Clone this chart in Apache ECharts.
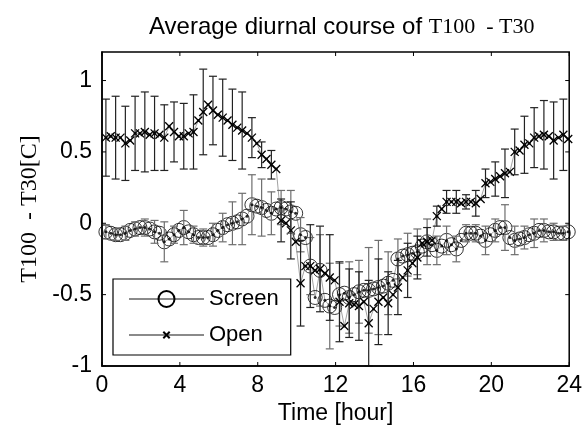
<!DOCTYPE html>
<html>
<head>
<meta charset="utf-8">
<script src="https://cdn.jsdelivr.net/npm/echarts@6/dist/echarts.min.js"></script>
<style>
html,body{margin:0;padding:0;background:#fff;}
#diurnal{width:585px;height:434px;}
</style>
</head>
<body>
<div id="diurnal"></div>
<script>
// time of day (hour), one point per 15 min
var hours = [0.2,0.45,0.7,0.95,1.2,1.45,1.7,1.95,2.2,2.45,2.7,2.95,3.2,3.45,3.7,3.95,
  4.2,4.45,4.7,4.95,5.2,5.45,5.7,5.95,6.2,6.45,6.7,6.95,7.2,7.45,7.7,7.95,
  8.2,8.45,8.7,8.95,9.2,9.45,9.7,9.95,10.2,10.45,10.7,10.95,11.2,11.45,11.7,11.95,
  12.2,12.45,12.7,12.95,13.2,13.45,13.7,13.95,14.2,14.45,14.7,14.95,15.2,15.45,15.7,15.95,
  16.2,16.45,16.7,16.95,17.2,17.45,17.7,17.95,18.2,18.45,18.7,18.95,19.2,19.45,19.7,19.95,
  20.2,20.45,20.7,20.95,21.2,21.45,21.7,21.95,22.2,22.45,22.7,22.95,23.2,23.45,23.7,23.95];

var screenMean = [-0.06,-0.07,-0.08,-0.08,-0.07,-0.05,-0.04,-0.03,-0.03,-0.04,-0.06,-0.07,-0.13,-0.11,-0.08,-0.05,
  -0.03,-0.06,-0.08,-0.10,-0.10,-0.10,-0.08,-0.05,-0.03,-0.01,0.00,0.01,0.03,0.05,0.13,0.12,
  0.11,0.09,0.07,0.10,0.11,0.10,0.08,0.07,-0.08,-0.10,-0.30,-0.52,-0.33,-0.54,-0.58,-0.59,
  -0.50,-0.49,-0.52,-0.50,-0.48,-0.47,-0.47,-0.46,-0.45,-0.44,-0.42,-0.40,-0.25,-0.23,-0.22,-0.21,
  -0.20,-0.16,-0.13,-0.15,-0.19,-0.16,-0.12,-0.15,-0.18,-0.12,-0.07,-0.07,-0.07,-0.09,-0.12,-0.08,
  -0.05,-0.03,-0.03,-0.10,-0.12,-0.11,-0.10,-0.08,-0.07,-0.05,-0.05,-0.06,-0.06,-0.07,-0.07,-0.06];

var openMean = [0.60,0.61,0.60,0.60,0.56,0.58,0.63,0.63,0.64,0.62,0.63,0.62,0.60,0.68,0.64,0.61,
  0.61,0.63,0.64,0.72,0.78,0.83,0.79,0.76,0.74,0.72,0.69,0.67,0.65,0.63,0.60,0.56,
  0.48,0.45,0.41,0.38,0.02,0.00,-0.05,-0.13,-0.42,-0.30,-0.30,-0.33,-0.32,-0.35,-0.38,-0.40,
  -0.55,-0.72,-0.56,-0.57,-0.58,-0.55,-0.70,-0.60,-0.55,-0.52,-0.56,-0.50,-0.45,-0.38,-0.33,-0.28,
  -0.24,-0.14,-0.13,-0.12,0.05,0.10,0.15,0.15,0.15,0.14,0.15,0.15,0.14,0.17,0.28,0.29,
  0.31,0.33,0.35,0.36,0.50,0.51,0.55,0.56,0.60,0.61,0.62,0.61,0.58,0.60,0.62,0.59];

// half-widths of the error bars, one per 30 min (every second point)
var screenErr = [0.05,0.04,0.05,0.05,0.06,0.08,0.14,0.06,0.12,0.06,0.06,0.08,0.10,0.15,0.18,0.21,
  0.20,0.15,0.12,0.15,0.12,0.20,0.25,0.30,0.22,0.25,0.22,0.30,0.33,0.22,0.14,0.15,
  0.16,0.16,0.10,0.10,0.09,0.06,0.06,0.10,0.08,0.16,0.10,0.08,0.10,0.08,0.06,0.05];

var openErr = [0.27,0.29,0.26,0.26,0.28,0.26,0.23,0.21,0.23,0.26,0.30,0.24,0.27,0.25,0.27,0.14,
  0.09,0.10,0.15,0.20,0.30,0.29,0.30,0.30,0.28,0.24,0.24,0.30,0.30,0.22,0.19,0.19,
  0.15,0.10,0.07,0.08,0.08,0.05,0.09,0.10,0.12,0.17,0.16,0.20,0.21,0.24,0.27,0.25];

// axis ticks
var xTicks = [0, 4, 8, 12, 16, 20, 24];
var yTicks = [-1, -0.5, 0, 0.5, 1];
var xRange = [0, 24];
var yRange = [-1, 1.2];

var crossPath = 'path://M0,0M20,20M6,6L14,14M14,6L6,14';

function pairs(mean){
    return hours.map(function(h,i){ return [h, mean[i]]; });
}
function bars(mean, err){
    var out = [];
    for (var k = 0; k < err.length; k++) {
        out.push([hours[2*k], mean[2*k], err[k]]);
    }
    return out;
}
function renderBar(color){
    return function(params, api){
        var x = api.value(0), y = api.value(1), e = api.value(2);
        var hi = api.coord([x, y + e]);
        var lo = api.coord([x, y - e]);
        var w = 4;
        var st = {stroke: color, lineWidth: 1.2};
        return {
            type: 'group',
            children: [
                {type:'line', shape:{x1:hi[0],y1:hi[1],x2:lo[0],y2:lo[1]}, style:st},
                {type:'line', shape:{x1:hi[0]-w,y1:hi[1],x2:hi[0]+w,y2:hi[1]}, style:st},
                {type:'line', shape:{x1:lo[0]-w,y1:lo[1],x2:lo[0]+w,y2:lo[1]}, style:st}
            ]
        };
    };
}
// box round the plot with inward ticks on all four sides, placed through api.coord
function renderFrame(params, api){
    var tl = api.coord([xRange[0], yRange[1]]);
    var br = api.coord([xRange[1], yRange[0]]);
    var st = {stroke: '#000', lineWidth: 1};
    var t = 4;
    var kids = [{
        type: 'polygon',
        shape: {points: [[tl[0], tl[1]], [br[0], tl[1]], [br[0], br[1]], [tl[0], br[1]]]},
        style: {fill: 'none', stroke: '#000', lineWidth: 1.5}
    }];
    xTicks.forEach(function(v){
        var p = api.coord([v, yRange[0]])[0];
        kids.push({type:'line', shape:{x1:p, y1:br[1], x2:p, y2:br[1]-t}, style:st});
        kids.push({type:'line', shape:{x1:p, y1:tl[1], x2:p, y2:tl[1]+t}, style:st});
    });
    yTicks.forEach(function(v){
        var p = api.coord([xRange[0], v])[1];
        kids.push({type:'line', shape:{x1:tl[0], y1:p, x2:tl[0]+t, y2:p}, style:st});
        kids.push({type:'line', shape:{x1:br[0], y1:p, x2:br[0]-t, y2:p}, style:st});
    });
    return {type: 'group', children: kids};
}

var myChart = echarts.init(document.getElementById('diurnal'));
var axisFont = {fontFamily: 'Liberation Sans', fontSize: 23, color: '#000'};

myChart.setOption({
    animation: false,
    title: {
        text: '{a|Average diurnal course of }{b|T100  - T30}',
        left: 144,
        top: 10,
        textStyle: {
            fontWeight: 'normal',
            rich: {
                a: {fontFamily: 'Liberation Sans', fontSize: 24, fontWeight: 'normal', color: '#000'},
                b: {fontFamily: 'Liberation Serif', fontSize: 22, fontWeight: 'normal', color: '#000'}
            }
        }
    },
    grid: {left: 102, right: 13, top: 52, bottom: 68},
    legend: {
        orient: 'vertical',
        left: 113,
        top: 279,
        backgroundColor: '#fff',
        borderColor: '#000',
        borderWidth: 1.2,
        borderRadius: 0,
        padding: [9, 12, 9, 15],
        itemWidth: 75,
        itemHeight: 20,
        itemGap: 14,
        textStyle: {fontFamily: 'Liberation Sans', fontSize: 22, color: '#000', lineHeight: 20},
        data: ['Screen', 'Open']
    },
    xAxis: {
        type: 'value', min: xRange[0], max: xRange[1], interval: 4,
        name: 'Time [hour]', nameLocation: 'middle', nameGap: 34,
        nameTextStyle: axisFont,
        axisLine: {show: true, onZero: false, lineStyle: {color: '#000', width: 1.5}},
        axisTick: {show: false},
        axisLabel: Object.assign({margin: 8}, axisFont),
        splitLine: {show: false}
    },
    yAxis: {
        type: 'value', min: yRange[0], max: yRange[1], interval: 0.5,
        name: 'T100  - T30[C]', nameLocation: 'middle', nameGap: 58,
        nameTextStyle: {fontFamily: 'Liberation Serif', fontSize: 24, color: '#000'},
        axisLine: {show: true, onZero: false, lineStyle: {color: '#000', width: 1.5}},
        axisTick: {show: false},
        axisLabel: Object.assign({margin: 10, showMaxLabel: false}, axisFont),
        splitLine: {show: false}
    },
    series: [
        {
            name: 'Screen', type: 'line',
            data: pairs(screenMean),
            symbol: 'circle', symbolSize: 14,
            lineStyle: {color: '#8a8a8a', width: 0.8},
            itemStyle: {color: 'rgba(0,0,0,0)', borderColor: '#000', borderWidth: 0.8},
            z: 3
        },
        {
            name: 'Open', type: 'line',
            data: pairs(openMean),
            symbol: crossPath, symbolSize: 20,
            lineStyle: {color: '#8a8a8a', width: 0.8},
            itemStyle: {color: 'rgba(0,0,0,0)', borderColor: '#000', borderWidth: 1.3},
            z: 3
        },
        {
            type: 'custom', name: 'screenErr',
            data: bars(screenMean, screenErr),
            renderItem: renderBar('#6e6e6e'),
            encode: {x: 0, y: 1},
            z: 4
        },
        {
            type: 'custom', name: 'openErr',
            data: bars(openMean, openErr),
            renderItem: renderBar('#222'),
            encode: {x: 0, y: 1},
            z: 4
        },
        {
            type: 'scatter', name: 'dots',
            data: pairs(screenMean).concat(pairs(openMean)),
            symbolSize: 3,
            itemStyle: {color: '#000'},
            z: 5
        },
        {
            type: 'custom', name: 'frame',
            data: [[xRange[0], yRange[0]]],
            renderItem: renderFrame,
            encode: {x: 0, y: 1},
            clip: false,
            silent: true,
            z: 10
        }
    ]
});
</script>
</body>
</html>
